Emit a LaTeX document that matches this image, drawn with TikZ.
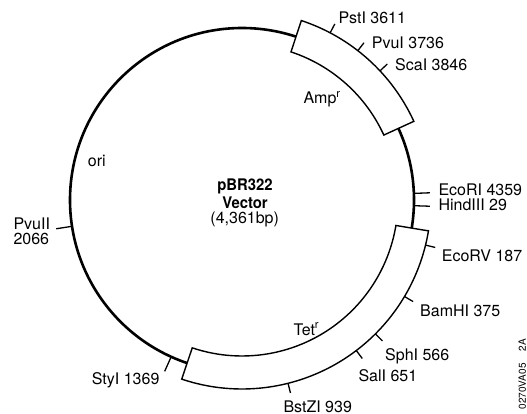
\documentclass[tikz,border=0pt]{standalone}
\usepackage{fontspec}
\setmainfont{TeX Gyre Heros}
\begin{document}
\begin{tikzpicture}[x=1pt,y=1pt,
  lbl/.style={anchor=base west, inner sep=0pt, font=\fontsize{16}{18}\selectfont},
  ctr/.style={anchor=base, inner sep=0pt, font=\fontsize{16}{18}\selectfont},
  ring/.style={line width=2.6pt},
  gene/.style={draw, fill=white, line width=1.4pt, line join=miter},
  tickline/.style={line width=1.3pt}]
\useasboundingbox (0,0) rectangle (527,413);
\begin{scope}[shift={(242,213)}]
  % plasmid circle
  \draw[ring] (0,0) circle[radius=172];
  % Amp gene box
  \draw[gene] (71.7:156) -- (71.7:189) arc[start angle=71.7, end angle=24.6, radius=189]
     -- (24.6:156) arc[start angle=24.6, end angle=71.7, radius=156] -- cycle;
  % Tet gene box
  \draw[gene] (-9.4:156) -- (-9.4:189) arc[start angle=-9.4, end angle=-108.6, radius=189]
     -- (-108.6:156) arc[start angle=-108.6, end angle=-9.4, radius=156] -- cycle;
  % ticks on gene boxes
  \foreach \a in {62.2,52.2,43.1,-13.8,-30.7,-45.1,-52.8,-75.9}
    \draw[tickline] (\a:189) -- (\a:199);
  % ticks on the ring
  \foreach \a in {2.2,-1.9,-114.3,188.8}
    \draw[tickline] (\a:172) -- (\a:188);
\end{scope}
% labels
\node[lbl] (pst) at (338.3,389.7) {PstI 3611};
\node[lbl] (pvu) at (371.7,364.7) {PvuI 3736};
\node[lbl] (sca) at (395,342.3) {ScaI 3846};
\node[lbl] (amp) at (303.3,309.7) {Amp\textsuperscript{r}};
\node[lbl] (ori) at (87.7,246.3) {ori};
\node[lbl] (ecori) at (438.3,217.3) {EcoRI 4359};
\node[lbl] (hind) at (438.3,203) {HindIII 29};
\node[lbl] (ecorv) at (441.7,151.3) {EcoRV 187};
\node[lbl] (bam) at (420,96.3) {BamHI 375};
\node[lbl] (sph) at (385,53) {SphI 566};
\node[lbl] (sal) at (358.3,31.3) {SalI 651};
\node[lbl] (bst) at (283.3,0.8) {BstZI 939};
\node[lbl] (sty) at (91.7,29) {StyI 1369};
\node[lbl] (pvuii) at (13.3,184) {PvuII};
\node[lbl] (pvuiinum) at (13.3,168.7) {2066};
\node[lbl] (tet) at (293.3,78) {Tet\textsuperscript{r}};
\node[ctr, font=\bfseries\fontsize{16}{18}\selectfont, xscale=0.93] (name) at (245,223) {pBR322};
\node[ctr, font=\bfseries\fontsize{16}{18}\selectfont, xscale=0.93] (vec) at (245,204.7) {Vector};
\node[ctr] (size) at (244.7,189.7) {(4,361bp)};
\node[anchor=base west, inner sep=0pt, rotate=90, font=\fontsize{10}{12}\selectfont] (code) at (525.8,3.5) {0270VA05\hspace{12pt}2A};
\end{tikzpicture}
\end{document}
